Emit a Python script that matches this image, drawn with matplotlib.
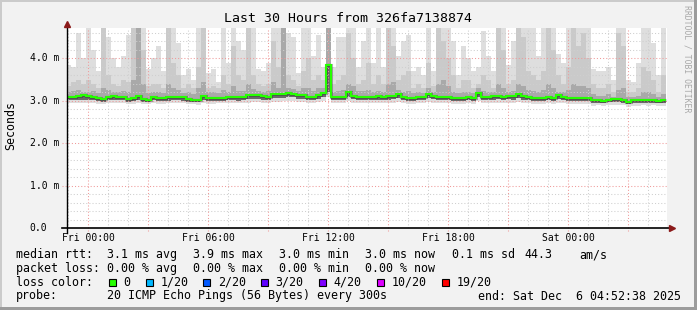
import numpy as np
import matplotlib
matplotlib.use('Agg')
import matplotlib.pyplot as plt
from matplotlib.patches import Rectangle
from matplotlib.transforms import blended_transform_factory

# ---------------- data (ms), one value per 15-minute step ----------------
rtt_median = [
    3.08, 3.09, 3.12, 3.13, 3.11, 3.10, 3.06, 3.05, 3.10, 3.11, 3.09, 3.09, 3.05, 3.06, 3.11,
    3.04, 3.03, 3.10, 3.06, 3.06, 3.08, 3.09, 3.09, 3.08, 3.04, 3.03, 3.03, 3.11, 3.07, 3.06,
    3.07, 3.07, 3.10, 3.10, 3.08, 3.10, 3.13, 3.14, 3.14, 3.11, 3.10, 3.15, 3.15, 3.16, 3.18,
    3.17, 3.14, 3.13, 3.10, 3.09, 3.14, 3.18, 3.85, 3.08, 3.09, 3.10, 3.20, 3.12, 3.10, 3.09,
    3.10, 3.10, 3.11, 3.10, 3.11, 3.12, 3.16, 3.09, 3.07, 3.07, 3.08, 3.09, 3.17, 3.12, 3.10,
    3.09, 3.10, 3.07, 3.06, 3.07, 3.08, 3.07, 3.19, 3.10, 3.09, 3.11, 3.12, 3.09, 3.12, 3.11,
    3.15, 3.11, 3.10, 3.07, 3.07, 3.06, 3.08, 3.07, 3.13, 3.08, 3.07, 3.06, 3.07, 3.07, 3.06,
    3.01, 3.02, 3.00, 3.03, 3.04, 3.04, 3.03, 2.98, 3.01, 3.01, 3.02, 3.01, 3.02, 3.00, 3.01]

rtt_max = [
    3.85, 3.80, 4.60, 4.00, 4.90, 4.20, 3.70, 4.90, 4.50, 4.00, 3.80, 4.05, 4.55, 4.90, 4.90,
    4.90, 3.75, 4.00, 4.30, 3.70, 4.90, 4.90, 4.35, 3.60, 3.75, 3.50, 4.90, 4.90, 3.65, 3.75,
    3.45, 4.90, 3.90, 4.90, 4.40, 4.20, 4.90, 4.90, 3.75, 3.70, 3.90, 4.90, 4.90, 4.90, 4.60,
    4.50, 3.65, 4.90, 4.90, 4.05, 4.55, 3.80, 4.90, 3.80, 4.50, 4.50, 4.90, 4.90, 3.80, 4.40,
    4.90, 3.90, 4.80, 3.80, 4.90, 4.90, 4.05, 4.40, 4.55, 3.70, 3.80, 3.60, 4.90, 3.70, 4.90,
    4.90, 4.90, 4.40, 3.60, 4.30, 4.00, 3.70, 3.80, 4.65, 4.05, 3.70, 4.90, 4.90, 3.85, 4.40,
    4.90, 4.90, 4.90, 4.90, 4.05, 4.90, 4.90, 4.90, 4.10, 3.90, 4.90, 4.90, 4.90, 4.90, 4.90,
    3.75, 3.70, 3.70, 3.80, 3.50, 4.90, 4.90, 3.50, 3.45, 3.90, 4.90, 4.90, 4.35, 3.60, 4.90]

rtt_p90 = [
    3.35, 3.45, 3.50, 3.40, 3.50, 3.40, 3.30, 4.75, 3.60, 3.40, 3.35, 3.50, 3.45, 4.80, 4.80,
    4.20, 3.35, 3.40, 3.40, 3.30, 4.80, 3.90, 3.60, 3.30, 3.40, 3.30, 3.80, 4.80, 3.30, 3.35,
    3.30, 3.60, 3.40, 4.30, 3.60, 3.50, 4.80, 3.60, 3.40, 3.35, 3.40, 4.40, 3.80, 4.80, 3.60,
    3.50, 3.35, 3.70, 4.00, 3.50, 3.60, 3.50, 4.90, 3.40, 3.50, 3.60, 4.60, 4.00, 3.40, 3.50,
    3.90, 3.40, 3.60, 3.40, 4.80, 4.30, 3.50, 3.60, 3.70, 3.30, 3.40, 3.30, 3.90, 3.35, 4.80,
    4.40, 4.00, 3.60, 3.30, 3.50, 3.50, 3.30, 3.40, 3.60, 3.50, 3.30, 4.80, 4.20, 3.40, 3.50,
    4.80, 4.50, 3.70, 3.60, 3.50, 3.70, 4.80, 4.20, 3.60, 3.40, 3.80, 4.80, 4.30, 4.60, 4.00,
    3.40, 3.30, 3.30, 3.40, 3.20, 4.60, 4.30, 3.20, 3.20, 3.30, 3.80, 3.70, 3.50, 3.20, 3.60]

rtt_p75 = [
    3.20, 3.22, 3.25, 3.20, 3.20, 3.22, 3.18, 3.30, 3.25, 3.20, 3.20, 3.22, 3.20, 3.50, 4.80,
    3.40, 3.18, 3.20, 3.20, 3.18, 3.40, 3.30, 3.25, 3.18, 3.20, 3.15, 3.30, 3.45, 3.20, 3.20,
    3.18, 3.25, 3.20, 3.35, 3.22, 3.22, 3.40, 3.28, 3.22, 3.20, 3.22, 3.45, 3.30, 4.80, 3.30,
    3.28, 3.22, 3.30, 3.30, 3.22, 3.30, 3.30, 4.90, 3.20, 3.22, 3.25, 3.40, 3.35, 3.22, 3.22,
    3.25, 3.20, 3.22, 3.20, 3.40, 3.45, 3.25, 3.20, 3.22, 3.18, 3.20, 3.18, 3.30, 3.20, 3.40,
    3.50, 3.35, 3.20, 3.18, 3.20, 3.20, 3.18, 3.30, 3.22, 3.20, 3.20, 3.40, 3.30, 3.20, 3.22,
    3.40, 3.35, 3.25, 3.22, 3.20, 3.25, 3.40, 3.30, 3.20, 3.20, 3.25, 3.40, 3.35, 3.35, 3.30,
    3.15, 3.12, 3.12, 3.15, 3.10, 3.25, 3.30, 3.10, 3.10, 3.12, 3.20, 3.20, 3.15, 3.10, 3.15]

rtt_p25 = [
    3.01, 3.02, 3.03, 3.03, 3.02, 3.02, 2.99, 2.98, 3.02, 3.02, 3.01, 3.01, 2.98, 2.99, 3.02,
    2.98, 2.97, 3.02, 2.99, 2.99, 3.00, 3.01, 3.01, 3.00, 2.98, 2.97, 2.97, 3.02, 3.00, 2.99,
    3.00, 3.00, 3.02, 3.02, 3.00, 3.02, 3.04, 3.05, 3.05, 3.03, 3.02, 3.06, 3.06, 3.07, 3.08,
    3.08, 3.05, 3.05, 3.02, 3.02, 3.05, 3.08, 3.20, 3.01, 3.02, 3.02, 3.08, 3.04, 3.02, 3.02,
    3.02, 3.02, 3.03, 3.02, 3.03, 3.04, 3.06, 3.01, 3.00, 3.00, 3.01, 3.02, 3.06, 3.04, 3.02,
    3.02, 3.02, 3.00, 2.99, 3.00, 3.01, 3.00, 3.08, 3.02, 3.02, 3.03, 3.04, 3.02, 3.04, 3.03,
    3.06, 3.03, 3.02, 3.00, 3.00, 2.99, 3.01, 3.00, 3.04, 3.01, 3.00, 2.99, 3.00, 3.00, 2.99,
    2.95, 2.96, 2.94, 2.97, 2.97, 2.97, 2.96, 2.93, 2.95, 2.95, 2.96, 2.95, 2.96, 2.94, 2.95]

rtt_min = [
    2.94, 2.95, 2.96, 2.95, 2.94, 2.95, 2.93, 2.92, 2.95, 2.95, 2.94, 2.94, 2.92, 2.93, 2.95,
    2.92, 2.92, 2.95, 2.93, 2.93, 2.94, 2.94, 2.95, 2.94, 2.92, 2.92, 2.91, 2.95, 2.93, 2.93,
    2.94, 2.94, 2.95, 2.95, 2.94, 2.95, 2.96, 2.97, 2.97, 2.96, 2.95, 2.98, 2.98, 2.99, 3.00,
    3.00, 2.97, 2.97, 2.95, 2.95, 2.97, 3.00, 3.10, 2.94, 2.95, 2.95, 3.00, 2.96, 2.95, 2.95,
    2.95, 2.95, 2.96, 2.95, 2.96, 2.96, 2.98, 2.94, 2.93, 2.93, 2.94, 2.95, 2.98, 2.96, 2.95,
    2.95, 2.95, 2.93, 2.92, 2.93, 2.94, 2.93, 2.99, 2.95, 2.95, 2.96, 2.96, 2.95, 2.96, 2.96,
    2.98, 2.96, 2.95, 2.93, 2.93, 2.92, 2.94, 2.93, 2.96, 2.94, 2.93, 2.92, 2.93, 2.93, 2.92,
    2.88, 2.89, 2.87, 2.90, 2.90, 2.90, 2.89, 2.86, 2.88, 2.88, 2.89, 2.88, 2.89, 2.87, 2.88]

x_tick_hours = [0, 6, 12, 18, 24]
x_tick_labels = ['Fri 00:00', 'Fri 06:00', 'Fri 12:00', 'Fri 18:00', 'Sat 00:00']
y_tick_values = [0.0, 1.0, 2.0, 3.0, 4.0]
y_tick_labels = ['0.0', '1.0 m', '2.0 m', '3.0 m', '4.0 m']

loss_labels = ['0', '1/20', '2/20', '3/20', '4/20', '10/20', '19/20']
loss_colors = ['#26ff00', '#00b8ff', '#0059ff', '#5e00ff', '#7e00ff', '#dd00ff', '#ff0000']

start_hour = -1.1228   # Thu 22:52:38 relative to Fri 00:00
step_hour = 0.25

# ---------------- figure ----------------
W, H = 697, 310
MONO = 'DejaVu Sans Mono'
fig = plt.figure(figsize=(W / 100, H / 100), dpi=100, facecolor='#f2f2f2')

# 3D border like rrdtool
fig.add_artist(Rectangle((0, 1 - 2 / H), 1, 2 / H, transform=fig.transFigure,
                         facecolor='#cbcbcb', edgecolor='none'))
fig.add_artist(Rectangle((0, 0), 2 / W, 1, transform=fig.transFigure,
                         facecolor='#cbcbcb', edgecolor='none'))
fig.add_artist(Rectangle((1 - 3 / W, 0), 3 / W, 1, transform=fig.transFigure,
                         facecolor='#9c9c9c', edgecolor='none'))
fig.add_artist(Rectangle((0, 0), 1, 3 / H, transform=fig.transFigure,
                         facecolor='#9c9c9c', edgecolor='none'))

ax_l, ax_r, ax_t, ax_b = 67, 667, 28, 228.3
ax = fig.add_axes([ax_l / W, 1 - ax_b / H, (ax_r - ax_l) / W, (ax_b - ax_t) / H])
ax.set_facecolor('white')
for s in ax.spines.values():
    s.set_visible(False)
ax.set_xticks([])
ax.set_yticks([])
ax.set_xlim(-1.05, 28.95)
ax.set_ylim(0, (ax_b - ax_t) / 42.5)

edges = start_hour + step_hour * np.arange(len(rtt_median) + 1)

# smoke bands (outer = light, inner = dark)
ax.stairs(rtt_max, edges, baseline=rtt_min, fill=True, color='#dedede', zorder=1)
ax.stairs(rtt_p90, edges, baseline=rtt_p25, fill=True, color='#cacaca', zorder=2)
ax.stairs(rtt_p75, edges, baseline=rtt_p25, fill=True, color='#a9a9a9', zorder=3)
ax.stairs(rtt_median, edges, baseline=rtt_p25, fill=True, color='#6a6a6a', zorder=3.5)

# grid
minor_col, major_col = '#cfcfcf', '#f09a9a'
dots = (0, (1, 2))
for h in range(-1, 29):
    if h % 3 == 0:
        ax.plot([h, h], [-0.012, 1], transform=blended_transform_factory(ax.transData, ax.transAxes),
                color=major_col, lw=0.75, ls=dots, zorder=5, clip_on=False)
    else:
        ax.axvline(h, color=minor_col, lw=0.75, ls=dots, zorder=4)
for k in range(1, 24):
    v = k * 0.2
    if k % 5 == 0:
        ax.plot([-0.0083, 1], [v, v], transform=blended_transform_factory(ax.transAxes, ax.transData),
                color=major_col, lw=0.75, ls=dots, zorder=5, clip_on=False)
    else:
        ax.axhline(v, color=minor_col, lw=0.75, ls=dots, zorder=4)

# median line
ax.stairs(rtt_median, edges, baseline=None, color='#202020', lw=2.2, alpha=0.35, zorder=6)
ax.stairs(rtt_median, edges, baseline=None, color=loss_colors[0], lw=1.5, zorder=7)

# axes lines and arrows
ax.plot([-5 / 600, 1.005], [0, 0], transform=ax.transAxes, color='black', lw=1.2,
        clip_on=False, zorder=8)
ax.plot([0, 0], [-5 / 200, 1.01], transform=ax.transAxes, color='black', lw=1.0,
        clip_on=False, zorder=8)
ax.plot([0], [1.02], transform=ax.transAxes, marker='^', ms=4.5, color='#8b1a1a',
        clip_on=False, zorder=9)
ax.plot([1.009], [0.0], transform=ax.transAxes, marker='>', ms=4.5, color='#8b1a1a',
        clip_on=False, zorder=9)

# tick labels
tx = blended_transform_factory(ax.transData, ax.transAxes)
for h, lab in zip(x_tick_hours, x_tick_labels):
    ax.text(h, -0.047, lab, transform=tx, ha='center', va='center', fontsize=7.05,
            family=MONO, color='black')
ty = blended_transform_factory(fig.transFigure, ax.transData)
for v, lab in zip(y_tick_values, y_tick_labels):
    ax.text(29.5 / W, v, lab, transform=ty, ha='left', va='center', fontsize=7.05,
            family=MONO, color='black')


def ftext(x, y, s, **kw):
    kw.setdefault('family', MONO)
    kw.setdefault('fontsize', 8.4)
    kw.setdefault('va', 'center')
    kw.setdefault('ha', 'left')
    fig.text(x / W, 1 - y / H, s, **kw)


ftext(348, 19, 'Last 30 Hours from 326fa7138874', ha='center', fontsize=9.5)
ftext(10.5, 126, 'Seconds', rotation=90, ha='center')
ftext(687.5, 59, 'RRDTOOL / TOBI OETIKER', rotation=-90, ha='center', fontsize=5.9,
      color='#a8a8a8')

# legend
y1, y2, y3, y4 = 254.5, 268.3, 282.0, 296.0
ftext(16, y1, 'median rtt:')
for x, s in [(107, '3.1 ms avg'), (193.3, '3.9 ms max'), (279.3, '3.0 ms min'),
             (365, '3.0 ms now'), (451.7, '0.1 ms sd'), (524, '44.3'), (579.3, 'am/s')]:
    ftext(x, y1, s)
ftext(16, y2, 'packet loss:')
for x, s in [(107, '0.00 % avg'), (193.3, '0.00 % max'), (279.3, '0.00 % min'),
             (365, '0.00 % now')]:
    ftext(x, y2, s)
ftext(16, y3, 'loss color:')
box_x = [108.7, 145.7, 203.3, 261, 319.3, 377.3, 441.7]
for bx, lab, col in zip(box_x, loss_labels, loss_colors):
    fig.add_artist(Rectangle((bx / W, 1 - (y3 + 3.5) / H), 7 / W, 7 / H,
                             transform=fig.transFigure, facecolor=col,
                             edgecolor='black', lw=0.8))
    ftext(bx + 14.6, y3, lab)
ftext(16, y4, 'probe:')
ftext(107, y4, '20 ICMP Echo Pings (56 Bytes) every 300s')
ftext(478.3, y4, 'end: Sat Dec  6 04:52:38 2025')

fig.savefig('out.png', dpi=100, facecolor=fig.get_facecolor())
